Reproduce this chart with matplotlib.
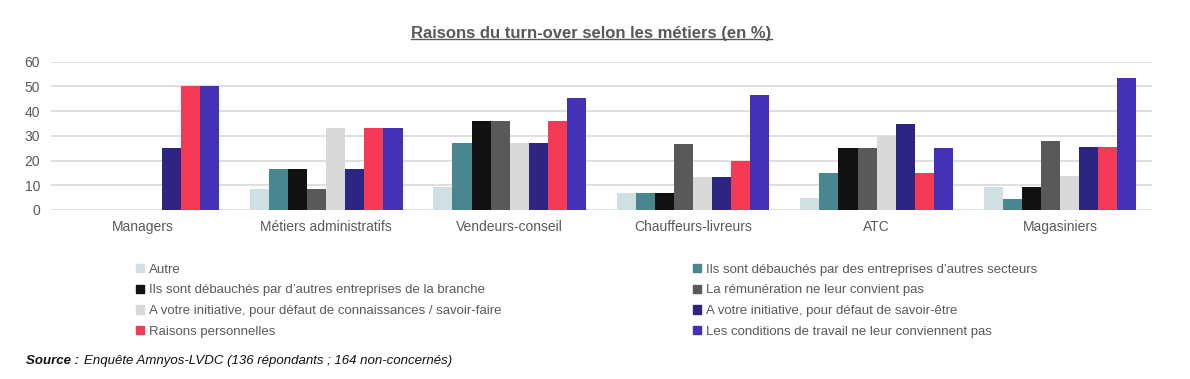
import numpy as np
import matplotlib
matplotlib.use("Agg")
import matplotlib.pyplot as plt
from matplotlib.patches import Patch
from matplotlib.lines import Line2D

plt.rcParams['font.family'] = ['Liberation Sans', 'DejaVu Sans']

metiers = ["Managers", "Métiers administratifs", "Vendeurs-conseil",
           "Chauffeurs-livreurs", "ATC", "Magasiniers"]

series = [
    "Autre",
    "Ils sont débauchés par des entreprises d’autres secteurs",
    "Ils sont débauchés par d’autres entreprises de la branche",
    "La rémunération ne leur convient pas",
    "A votre initiative, pour défaut de connaissances / savoir-faire",
    "A votre initiative, pour défaut de savoir-être",
    "Raisons personnelles",
    "Les conditions de travail ne leur conviennent pas",
]

autre = [0, 8.3, 9.1, 6.7, 5, 9.1]
autres_secteurs = [0, 16.7, 27.1, 6.7, 15, 4.5]
branche = [0, 16.7, 36.2, 6.7, 25, 9.1]
remuneration = [0, 8.3, 36.2, 26.7, 25, 27.8]
savoir_faire = [0, 33.3, 27.1, 13.3, 30, 13.6]
savoir_etre = [25, 16.7, 27.1, 13.3, 35, 25.5]
personnelles = [50, 33.3, 36.2, 20, 15, 25.5]
conditions = [50, 33.3, 45.3, 46.7, 25, 53.4]

values = [autre, autres_secteurs, branche, remuneration,
          savoir_faire, savoir_etre, personnelles, conditions]
colors = ["#cfe0e3", "#4a8690", "#111111", "#595959",
          "#d9d9d9", "#2e2583", "#f43a55", "#4332b5"]

fig = plt.figure(figsize=(11.9, 3.79), dpi=100)
ax = fig.add_axes([0.0429, 0.446, 0.925, 0.391])

x = np.arange(len(metiers))
w = 0.104
for i, (vals, c) in enumerate(zip(values, colors)):
    ax.bar(x + (i - 3.5) * w, vals, w, color=c, zorder=3)

ax.set_xlim(-0.5, len(metiers) - 0.5)
ax.set_ylim(0, 60)
ax.set_yticks(range(0, 61, 10))
ax.yaxis.grid(True, color="#d9d9d9", linewidth=1.2, zorder=0)
for s in ax.spines.values():
    s.set_visible(False)
ax.set_xticks(x)
ax.set_xticklabels(metiers)
ax.tick_params(length=0, labelsize=10, colors="#595959", pad=7)
ax.tick_params(axis="y", pad=8)

title = fig.text(0.497, 0.893, "Raisons du turn-over selon les métiers (en %)",
                 ha="center", va="bottom", fontsize=12, fontweight="bold",
                 color="#595959")
fig.canvas.draw()
r = fig.canvas.get_renderer()
bb = title.get_window_extent(r).transformed(fig.transFigure.inverted())
fig.add_artist(Line2D([bb.x0, bb.x1], [bb.y0 + 0.004, bb.y0 + 0.004],
                      transform=fig.transFigure, color="#595959", linewidth=1))

handles = [Patch(color=c) for c in colors]
for col, xpos in [(0, 0.11), (1, 0.578)]:
    idx = [col, col + 2, col + 4, col + 6]
    fig.legend([handles[i] for i in idx], [series[i] for i in idx],
               loc="upper left", bbox_to_anchor=(xpos, 0.318), frameon=False,
               fontsize=9.5, handlelength=0.6, handleheight=0.6,
               handletextpad=0.35, labelspacing=0.66, labelcolor="#595959",
               borderaxespad=0)

src = fig.text(0.022, 0.04, "Source :", fontsize=9.5, fontweight="bold",
               fontstyle="italic", color="#111111")
fig.canvas.draw()
sb = src.get_window_extent(r).transformed(fig.transFigure.inverted())
fig.text(sb.x1 + 0.004, 0.04, "Enquête Amnyos-LVDC (136 répondants ; 164 non-concernés)",
         fontsize=9.5, fontstyle="italic", color="#111111")

fig.savefig("out.png", dpi=100)
